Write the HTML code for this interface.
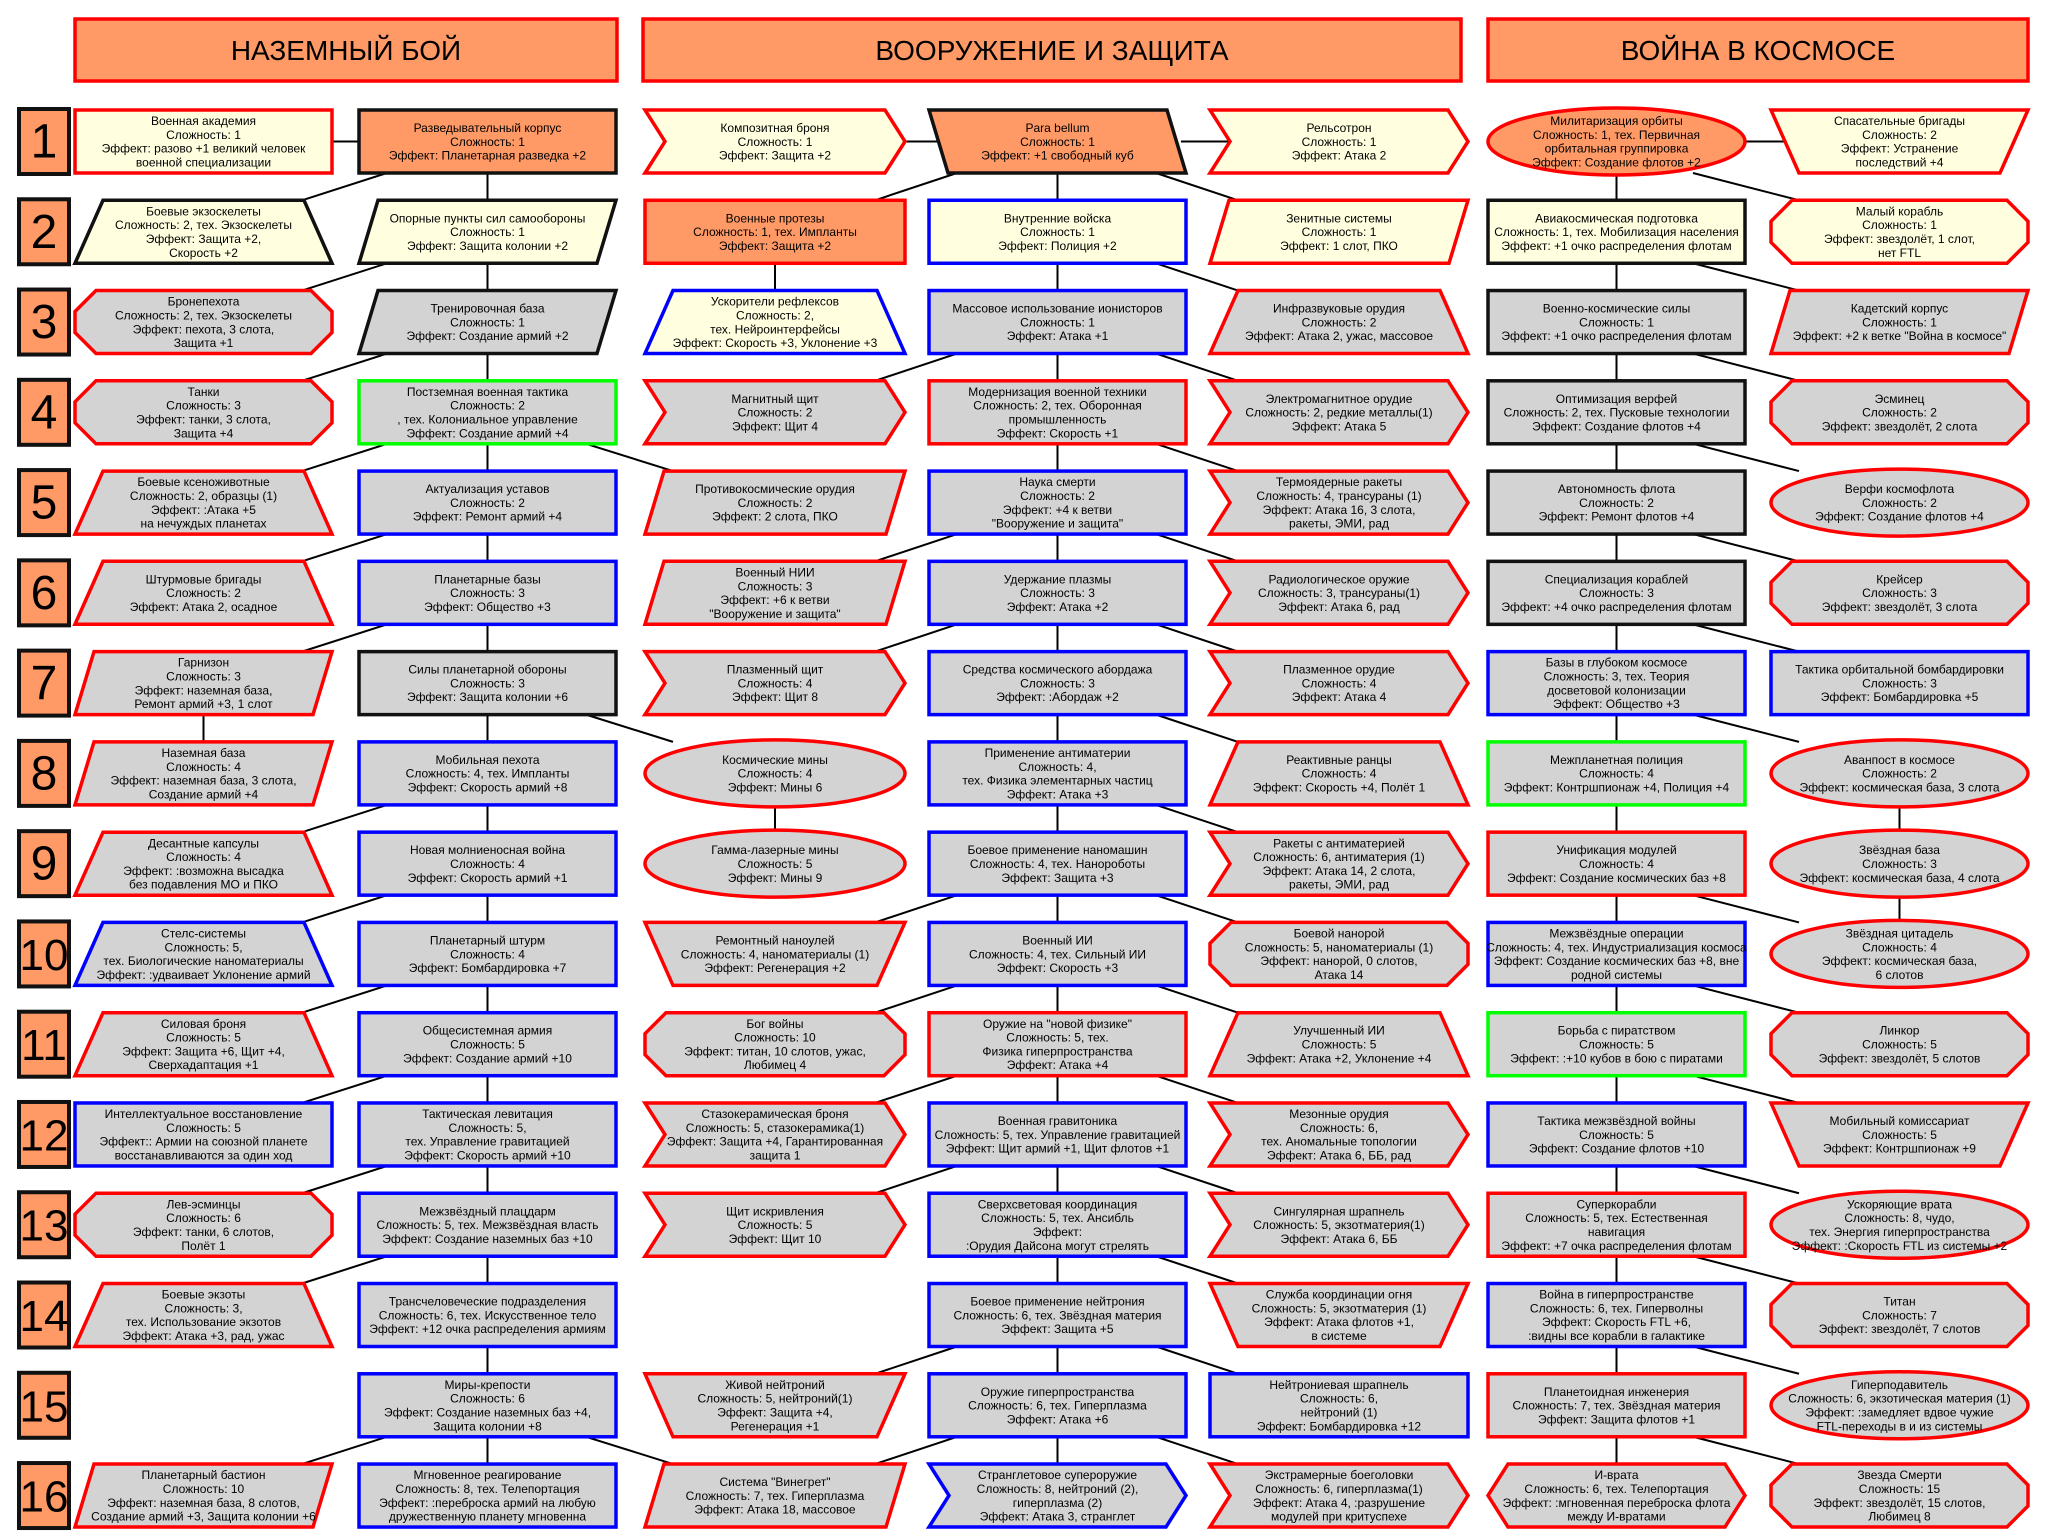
<!DOCTYPE html>
<html><head><meta charset="utf-8">
<style>
html,body{margin:0;padding:0;background:#fff;width:2058px;height:1537px;overflow:hidden}
svg text{font-family:"Liberation Sans","DejaVu Sans",sans-serif;fill:#000}
</style></head>
<body>
<svg id="s" xmlns="http://www.w3.org/2000/svg" width="2058" height="1537" viewBox="0 0 2058 1537">
<g id="lines" stroke="#000" stroke-width="2" fill="none"></g>
<g id="shapes"></g>
</svg>
<script>
var NS="http://www.w3.org/2000/svg";
var S=document.getElementById('shapes'),L=document.getElementById('lines');
function el(p,t,a){var e=document.createElementNS(NS,t);for(var k in a)e.setAttribute(k,a[k]);p.appendChild(e);return e;}
var COLX={A:[75,257],B:[359,257],C:[645,260],D:[929,257],E:[1210,258],F:[1488,257],G:[1771,257]};
function rowY(r){return 110+90.27*(r-1);}
var H=63;
var FILL={Y:"#FFFFE0",O:"#FF9966",G:"#D3D3D3"};
var STR={r:"#FF0000",k:"#111111",b:"#0000FF",g:"#00FF00"};
function pts(a){return a.map(function(p){return p[0].toFixed(1)+","+p[1].toFixed(1)}).join(" ");}
function shape(t,x,y,w,h,f,s){
  var A={fill:f,stroke:s,"stroke-width":3.5,"stroke-linejoin":"miter"};
  if(t=="rect"){A.x=x;A.y=y;A.width=w;A.height=h;return el(S,"rect",A);}
  if(t=="ell"){A.cx=x+w/2;A.cy=y+h/2;A.rx=w/2;A.ry=h/2+2;return el(S,"ellipse",A);}
  var p,d;
  if(t=="para"){d=19;p=[[x+d,y],[x+w,y],[x+w-d,y+h],[x,y+h]];}
  else if(t=="paraR"){d=19;p=[[x,y],[x+w-d,y],[x+w,y+h],[x+d,y+h]];}
  else if(t=="trap"){d=28;p=[[x+d,y],[x+w-d,y],[x+w,y+h],[x,y+h]];}
  else if(t=="inv"){d=28;p=[[x,y],[x+w,y],[x+w-d,y+h],[x+d,y+h]];}
  else if(t=="oct"){var c=21,v=21;p=[[x+c,y],[x+w-c,y],[x+w,y+v],[x+w,y+h-v],[x+w-c,y+h],[x+c,y+h],[x,y+h-v],[x,y+v]];}
  else if(t=="hex"){var c2=20;p=[[x+c2,y],[x+w-c2,y],[x+w,y+h/2],[x+w-c2,y+h],[x+c2,y+h],[x,y+h/2]];}
  else if(t=="chev"){d=20;p=[[x,y],[x+w-d,y],[x+w,y+h/2],[x+w-d,y+h],[x,y+h],[x+d,y+h/2]];}
  A.points=pts(p);return el(S,"polygon",A);
}
function text(cx,cy,lines,size,lh){
  var n=lines.length;
  for(var i=0;i<n;i++){
    var t=el(S,"text",{x:cx,y:cy+(i-(n-1)/2)*lh+size*0.36,"text-anchor":"middle","font-size":size});
    t.textContent=lines[i];
  }
}
var N={};
var data=[
[1,"A","rect","Y","r","Военная академия|Сложность: 1|Эффект: разово +1 великий человек|военной специализации"],
[1,"B","rect","O","k","Разведывательный корпус|Сложность: 1|Эффект: Планетарная разведка +2"],
[1,"C","chev","Y","r","Композитная броня|Сложность: 1|Эффект: Защита +2"],
[1,"D","paraR","O","k","Para bellum|Сложность: 1|Эффект: +1 свободный куб"],
[1,"E","chev","Y","r","Рельсотрон|Сложность: 1|Эффект: Атака 2"],
[1,"F","ell","O","r","Милитаризация орбиты|Сложность: 1, тех. Первичная|орбитальная группировка|Эффект: Создание флотов +2"],
[1,"G","inv","Y","r","Спасательные бригады|Сложность: 2|Эффект: Устранение|последствий +4"],
[2,"A","trap","Y","k","Боевые экзоскелеты|Сложность: 2, тех. Экзоскелеты|Эффект: Защита +2,|Скорость +2"],
[2,"B","para","Y","k","Опорные пункты сил самообороны|Сложность: 1|Эффект: Защита колонии +2"],
[2,"C","rect","O","r","Военные протезы|Сложность: 1, тех. Импланты|Эффект: Защита +2"],
[2,"D","rect","Y","b","Внутренние войска|Сложность: 1|Эффект: Полиция +2"],
[2,"E","para","Y","r","Зенитные системы|Сложность: 1|Эффект: 1 слот, ПКО"],
[2,"F","rect","Y","k","Авиакосмическая подготовка|Сложность: 1, тех. Мобилизация населения|Эффект: +1 очко распределения флотам"],
[2,"G","oct","Y","r","Малый корабль|Сложность: 1|Эффект: звездолёт, 1 слот,|нет FTL"],
[3,"A","oct","G","r","Бронепехота|Сложность: 2, тех. Экзоскелеты|Эффект: пехота, 3 слота,|Защита +1"],
[3,"B","para","G","k","Тренировочная база|Сложность: 1|Эффект: Создание армий +2"],
[3,"C","trap","Y","b","Ускорители рефлексов|Сложность: 2,|тех. Нейроинтерфейсы|Эффект: Скорость +3, Уклонение +3"],
[3,"D","rect","G","b","Массовое использование ионисторов|Сложность: 1|Эффект: Атака +1"],
[3,"E","trap","G","r","Инфразвуковые орудия|Сложность: 2|Эффект: Атака 2, ужас, массовое"],
[3,"F","rect","G","k","Военно-космические силы|Сложность: 1|Эффект: +1 очко распределения флотам"],
[3,"G","para","G","r","Кадетский корпус|Сложность: 1|Эффект: +2 к ветке \"Война в космосе\""],
[4,"A","oct","G","r","Танки|Сложность: 3|Эффект: танки, 3 слота,|Защита +4"],
[4,"B","rect","G","g","Постземная военная тактика|Сложность: 2|, тех. Колониальное управление|Эффект: Создание армий +4"],
[4,"C","chev","G","r","Магнитный щит|Сложность: 2|Эффект: Щит 4"],
[4,"D","rect","G","r","Модернизация военной техники|Сложность: 2, тех. Оборонная|промышленность|Эффект: Скорость +1"],
[4,"E","chev","G","r","Электромагнитное орудие|Сложность: 2, редкие металлы(1)|Эффект: Атака 5"],
[4,"F","rect","G","k","Оптимизация верфей|Сложность: 2, тех. Пусковые технологии|Эффект: Создание флотов +4"],
[4,"G","oct","G","r","Эсминец|Сложность: 2|Эффект: звездолёт, 2 слота"],
[5,"A","trap","G","r","Боевые ксеноживотные|Сложность: 2, образцы (1)|Эффект: :Атака +5|на нечуждых планетах"],
[5,"B","rect","G","b","Актуализация уставов|Сложность: 2|Эффект: Ремонт армий +4"],
[5,"C","para","G","r","Противокосмические орудия|Сложность: 2|Эффект: 2 слота, ПКО"],
[5,"D","rect","G","b","Наука смерти|Сложность: 2|Эффект: +4 к ветви|\"Вооружение и защита\""],
[5,"E","chev","G","r","Термоядерные ракеты|Сложность: 4, трансураны (1)|Эффект: Атака 16, 3 слота,|ракеты, ЭМИ, рад"],
[5,"F","rect","G","k","Автономность флота|Сложность: 2|Эффект: Ремонт флотов +4"],
[5,"G","ell","G","r","Верфи космофлота|Сложность: 2|Эффект: Создание флотов +4"],
[6,"A","trap","G","r","Штурмовые бригады|Сложность: 2|Эффект: Атака 2, осадное"],
[6,"B","rect","G","b","Планетарные базы|Сложность: 3|Эффект: Общество +3"],
[6,"C","para","G","r","Военный НИИ|Сложность: 3|Эффект: +6 к ветви|\"Вооружение и защита\""],
[6,"D","rect","G","b","Удержание плазмы|Сложность: 3|Эффект: Атака +2"],
[6,"E","chev","G","r","Радиологическое оружие|Сложность: 3, трансураны(1)|Эффект: Атака 6, рад"],
[6,"F","rect","G","k","Специализация кораблей|Сложность: 3|Эффект: +4 очко распределения флотам"],
[6,"G","oct","G","r","Крейсер|Сложность: 3|Эффект: звездолёт, 3 слота"],
[7,"A","para","G","r","Гарнизон|Сложность: 3|Эффект: наземная база,|Ремонт армий +3, 1 слот"],
[7,"B","rect","G","k","Силы планетарной обороны|Сложность: 3|Эффект: Защита колонии +6"],
[7,"C","chev","G","r","Плазменный щит|Сложность: 4|Эффект: Щит 8"],
[7,"D","rect","G","b","Средства космического абордажа|Сложность: 3|Эффект: :Абордаж +2"],
[7,"E","chev","G","r","Плазменное орудие|Сложность: 4|Эффект: Атака 4"],
[7,"F","rect","G","b","Базы в глубоком космосе|Сложность: 3, тех. Теория|досветовой колонизации|Эффект: Общество +3"],
[7,"G","rect","G","b","Тактика орбитальной бомбардировки|Сложность: 3|Эффект: Бомбардировка +5"],
[8,"A","para","G","r","Наземная база|Сложность: 4|Эффект: наземная база, 3 слота,|Создание армий +4"],
[8,"B","rect","G","b","Мобильная пехота|Сложность: 4, тех. Импланты|Эффект: Скорость армий +8"],
[8,"C","ell","G","r","Космические мины|Сложность: 4|Эффект: Мины 6"],
[8,"D","rect","G","b","Применение антиматерии|Сложность: 4,|тех. Физика элементарных частиц|Эффект: Атака +3"],
[8,"E","trap","G","r","Реактивные ранцы|Сложность: 4|Эффект: Скорость +4, Полёт 1"],
[8,"F","rect","G","g","Межпланетная полиция|Сложность: 4|Эффект: Контршпионаж +4, Полиция +4"],
[8,"G","ell","G","r","Аванпост в космосе|Сложность: 2|Эффект: космическая база, 3 слота"],
[9,"A","trap","G","r","Десантные капсулы|Сложность: 4|Эффект: :возможна высадка|без подавления МО и ПКО"],
[9,"B","rect","G","b","Новая молниеносная война|Сложность: 4|Эффект: Скорость армий +1"],
[9,"C","ell","G","r","Гамма-лазерные мины|Сложность: 5|Эффект: Мины 9"],
[9,"D","rect","G","b","Боевое применение наномашин|Сложность: 4, тех. Нанороботы|Эффект: Защита +3"],
[9,"E","chev","G","r","Ракеты с антиматерией|Сложность: 6, антиматерия (1)|Эффект: Атака 14, 2 слота,|ракеты, ЭМИ, рад"],
[9,"F","rect","G","r","Унификация модулей|Сложность: 4|Эффект: Создание космических баз +8"],
[9,"G","ell","G","r","Звёздная база|Сложность: 3|Эффект: космическая база, 4 слота"],
[10,"A","trap","G","b","Стелс-системы|Сложность: 5,|тех. Биологические наноматериалы|Эффект: :удваивает Уклонение армий"],
[10,"B","rect","G","b","Планетарный штурм|Сложность: 4|Эффект: Бомбардировка +7"],
[10,"C","inv","G","r","Ремонтный наноулей|Сложность: 4, наноматериалы (1)|Эффект: Регенерация +2"],
[10,"D","rect","G","b","Военный ИИ|Сложность: 4, тех. Сильный ИИ|Эффект: Скорость +3"],
[10,"E","oct","G","r","Боевой нанорой|Сложность: 5, наноматериалы (1)|Эффект: нанорой, 0 слотов,|Атака 14"],
[10,"F","rect","G","b","Межзвёздные операции|Сложность: 4, тех. Индустриализация космоса|Эффект: Создание космических баз +8, вне|родной системы"],
[10,"G","ell","G","r","Звёздная цитадель|Сложность: 4|Эффект: космическая база,|6 слотов"],
[11,"A","trap","G","r","Силовая броня|Сложность: 5|Эффект: Защита +6, Щит +4,|Сверхадаптация +1"],
[11,"B","rect","G","b","Общесистемная армия|Сложность: 5|Эффект: Создание армий +10"],
[11,"C","oct","G","r","Бог войны|Сложность: 10|Эффект: титан, 10 слотов, ужас,|Любимец 4"],
[11,"D","rect","G","r","Оружие на \"новой физике\"|Сложность: 5, тех.|Физика гиперпространства|Эффект: Атака +4"],
[11,"E","trap","G","r","Улучшенный ИИ|Сложность: 5|Эффект: Атака +2, Уклонение +4"],
[11,"F","rect","G","g","Борьба с пиратством|Сложность: 5|Эффект: :+10 кубов в бою с пиратами"],
[11,"G","oct","G","r","Линкор|Сложность: 5|Эффект: звездолёт, 5 слотов"],
[12,"A","rect","G","b","Интеллектуальное восстановление|Сложность: 5|Эффект:: Армии на союзной планете|восстанавливаются за один ход"],
[12,"B","rect","G","b","Тактическая левитация|Сложность: 5,|тех. Управление гравитацией|Эффект: Скорость армий +10"],
[12,"C","chev","G","r","Стазокерамическая броня|Сложность: 5, стазокерамика(1)|Эффект: Защита +4, Гарантированная|защита 1"],
[12,"D","rect","G","b","Военная гравитоника|Сложность: 5, тех. Управление гравитацией|Эффект: Щит армий +1, Щит флотов +1"],
[12,"E","chev","G","r","Мезонные орудия|Сложность: 6,|тех. Аномальные топологии|Эффект: Атака 6, ББ, рад"],
[12,"F","rect","G","b","Тактика межзвёздной войны|Сложность: 5|Эффект: Создание флотов +10"],
[12,"G","inv","G","r","Мобильный комиссариат|Сложность: 5|Эффект: Контршпионаж +9"],
[13,"A","oct","G","r","Лев-эсминцы|Сложность: 6|Эффект: танки, 6 слотов,|Полёт 1"],
[13,"B","rect","G","b","Межзвёздный плацдарм|Сложность: 5, тех. Межзвёздная власть|Эффект: Создание наземных баз +10"],
[13,"C","chev","G","r","Щит искривления|Сложность: 5|Эффект: Щит 10"],
[13,"D","rect","G","b","Сверхсветовая координация|Сложность: 5, тех. Ансибль|Эффект:|:Орудия Дайсона могут стрелять"],
[13,"E","chev","G","r","Сингулярная шрапнель|Сложность: 5, экзотматерия(1)|Эффект: Атака 6, ББ"],
[13,"F","rect","G","r","Суперкорабли|Сложность: 5, тех. Естественная|навигация|Эффект: +7 очка распределения флотам"],
[13,"G","ell","G","r","Ускоряющие врата|Сложность: 8, чудо,|тех. Энергия гиперпространства|Эффект: :Скорость FTL из системы +2"],
[14,"A","trap","G","r","Боевые экзоты|Сложность: 3,|тех. Использование экзотов|Эффект: Атака +3, рад, ужас"],
[14,"B","rect","G","b","Трансчеловеческие подразделения|Сложность: 6, тех. Искусственное тело|Эффект: +12 очка распределения армиям"],
[14,"D","rect","G","b","Боевое применение нейтрония|Сложность: 6, тех. Звёздная материя|Эффект: Защита +5"],
[14,"E","inv","G","r","Служба координации огня|Сложность: 5, экзотматерия (1)|Эффект: Атака флотов +1,|в системе"],
[14,"F","rect","G","b","Война в гиперпространстве|Сложность: 6, тех. Гиперволны|Эффект: Скорость FTL +6,|:видны все корабли в галактике"],
[14,"G","oct","G","r","Титан|Сложность: 7|Эффект: звездолёт, 7 слотов"],
[15,"B","rect","G","b","Миры-крепости|Сложность: 6|Эффект: Создание наземных баз +4,|Защита колонии +8"],
[15,"C","inv","G","r","Живой нейтроний|Сложность: 5, нейтроний(1)|Эффект: Защита +4,|Регенерация +1"],
[15,"D","rect","G","b","Оружие гиперпространства|Сложность: 6, тех. Гиперплазма|Эффект: Атака +6"],
[15,"E","rect","G","b","Нейтрониевая шрапнель|Сложность: 6,|нейтроний (1)|Эффект: Бомбардировка +12"],
[15,"F","rect","G","r","Планетоидная инженерия|Сложность: 7, тех. Звёздная материя|Эффект: Защита флотов +1"],
[15,"G","ell","G","r","Гиперподавитель|Сложность: 6, экзотическая материя (1)|Эффект: :замедляет вдвое чужие|FTL-переходы в и из системы"],
[16,"A","para","G","r","Планетарный бастион|Сложность: 10|Эффект: наземная база, 8 слотов,|Создание армий +3, Защита колонии +6"],
[16,"B","rect","G","b","Мгновенное реагирование|Сложность: 8, тех. Телепортация|Эффект: :переброска армий на любую|дружественную планету мгновенна"],
[16,"C","para","G","r","Система \"Винегрет\"|Сложность: 7, тех. Гиперплазма|Эффект: Атака 18, массовое"],
[16,"D","chev","G","b","Странглетовое супероружие|Сложность: 8, нейтроний (2),|гиперплазма (2)|Эффект: Атака 3, странглет"],
[16,"E","chev","G","r","Экстрамерные боеголовки|Сложность: 6, гиперплазма(1)|Эффект: Атака 4, :разрушение|модулей при критуспехе"],
[16,"F","hex","G","r","И-врата|Сложность: 6, тех. Телепортация|Эффект: :мгновенная переброска флота|между И-вратами"],
[16,"G","oct","G","r","Звезда Смерти|Сложность: 15|Эффект: звездолёт, 15 слотов,|Любимец 8"]
];
[[75,542,"НАЗЕМНЫЙ БОЙ"],[643,818,"ВООРУЖЕНИЕ И ЗАЩИТА"],[1488,540,"ВОЙНА В КОСМОСЕ"]].forEach(function(h){
  el(S,"rect",{x:h[0],y:19,width:h[1],height:62,fill:"#FF9966",stroke:"#FF0000","stroke-width":3.5});
  var t=el(S,"text",{x:h[0]+h[1]/2,y:60,"text-anchor":"middle","font-size":28});t.textContent=h[2];
});
for(var r=1;r<=16;r++){
  var y=rowY(r);
  el(S,"rect",{x:19,y:y-1,width:50,height:H+2,fill:"#FF9966",stroke:"#111","stroke-width":4});
  var t=el(S,"text",{x:44,y:y+H/2+16,"text-anchor":"middle","font-size":r>=10?44:48});t.textContent=r;
}
data.forEach(function(d){
  var c=COLX[d[1]],x=c[0],w=c[1],y=rowY(d[0]);
  N[d[0]+d[1]]={x:x,y:y,w:w,h:H};
  shape(d[2],x,y,w,H,FILL[d[3]],STR[d[4]]);
  text(x+w/2,y+H/2,d[5].split("|"),12,13.8);
});
function ln(x1,y1,x2,y2){el(L,"line",{x1:x1,y1:y1,x2:x2,y2:y2});}
function vert(col,r1,r2){var a=N[r1+col],b=N[r2+col];ln(a.x+a.w/2,a.y+a.h,b.x+b.w/2,b.y);}
function hor(r,c1,c2){var a=N[r+c1],b=N[r2c(r,c2)];ln(a.x+a.w-5,a.y+a.h/2,b.x+25,b.y+b.h/2);}
function r2c(r,c){return r+c;}
function dl(r1,c1,r2,c2){var a=N[r1+c1],b=N[r2+c2];ln(a.x+28,a.y+a.h,b.x+b.w-30,b.y);}
function dr(r1,c1,r2,c2){var a=N[r1+c1],b=N[r2+c2];ln(a.x+a.w-30,a.y+a.h,b.x+28,b.y);}
hor(1,"A","B");hor(1,"C","D");hor(1,"D","E");hor(1,"F","G");
for(var r=1;r<16;r++){vert("B",r,r+1);vert("D",r,r+1);vert("F",r,r+1);}
[1,2,3,4,5,6,8,9,10,11,12,13].forEach(function(r){dl(r,"B",r+1,"A");});
dl(15,"B",16,"A");
vert("A",7,8);
dr(4,"B",5,"C");dr(7,"B",8,"C");dr(15,"B",16,"C");
vert("C",8,9);vert("C",2,3);vert("G",8,9);vert("G",9,10);
[1,3,5,6,9,10,11,12,14,15].forEach(function(r){dl(r,"D",r+1,"C");});
for(var r=1;r<16;r++){dr(r,"D",r+1,"E");}
for(var r=1;r<16;r++){ if(r==8)continue; var a=N[r+"F"],b=N[(r+1)+"G"];ln(a.x+a.w-52,a.y+a.h,b.x+28,b.y);}
</script>
</body></html>
